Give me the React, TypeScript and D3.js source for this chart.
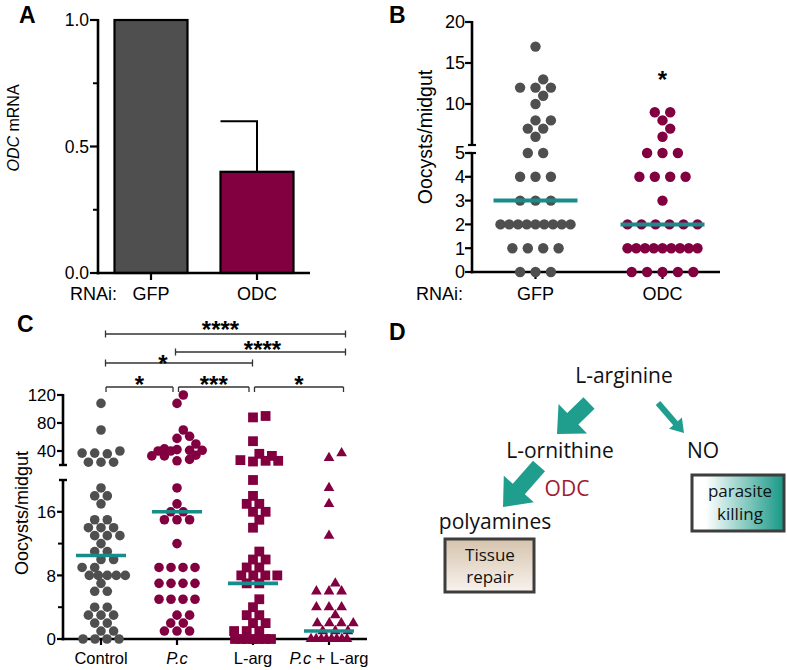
import React from "react";
import * as d3 from "d3";

const FONT = "'Liberation Sans', Arial, Helvetica, sans-serif";
const DFONT = "'Open Sans', 'Noto Sans', sans-serif";
const GRAY = "#4f4f4f";
const MAROON = "#820040";
const TEAL = "#188c8a";
const ARROW = "#1f9e8e";

// ---------- Panel A ----------
const aCategories = ["GFP", "ODC"];
const aMeans = [1.0, 0.4];
const aErrors = [0, 0.2];
const aColors = [GRAY, MAROON];
const aTicks = [0, 0.5, 1.0];
const aMinorTicks = [0.25, 0.75];

// ---------- Panel B ----------
const bCategories = ["GFP", "ODC"];
const bGFP = [17, 13, 12, 12, 12, 11, 10, 8, 8, 7, 7, 6, 5, 5, 4, 4, 4, 3, 3, 3, 2, 2, 2, 2, 2, 2, 2, 2, 2, 1, 1, 1, 1, 0, 0, 0];
const bODC = [9, 9, 8, 7, 6, 5, 5, 5, 4, 4, 4, 4, 3, 2, 2, 2, 2, 2, 2, 1, 1, 1, 1, 1, 1, 1, 1, 1, 0, 0, 0, 0, 0];
const bMedians = [3, 2];
const bLowerTicks = [0, 1, 2, 3, 4, 5];
const bUpperTicks = [10, 15, 20];

// ---------- Panel C ----------
const cCategories = ["Control", "P.c", "L-arg", "P.c + L-arg"];
const cControl = [108, 70, 40, 37, 37, 36, 24, 24, 24, 19, 18, 18, 17, 15, 15, 14, 14, 14, 13, 13, 13, 12, 11, 11, 10, 10, 9, 9, 8, 8, 8, 8, 8, 7, 6, 6, 4, 4, 3, 3, 3, 2, 2, 1, 1, 0, 0, 0, 0];
const cPc = [120, 108, 70, 61, 58, 50, 43, 42, 41, 41, 40, 40, 34, 33, 33, 28, 26, 19, 17, 16, 16, 15, 15, 15, 12, 9, 9, 9, 9, 7, 7, 7, 7, 5, 5, 5, 5, 3, 3, 2, 2, 1, 1, 1];
const cLarg = [90, 88, 54, 36, 33, 27, 26, 26, 25, 20, 18, 17, 17, 16, 16, 15, 14, 11, 10, 10, 9, 9, 8, 8, 8, 8, 7, 7, 5, 4, 3, 3, 2, 2, 1, 1, 1, 0, 0, 0, 0, 0, 0, 0];
const cPcLarg = [37, 30, 19, 17, 13, 7, 6, 6, 6, 4, 4, 4, 3, 2, 2, 2, 2, 1, 1, 1, 0, 0, 0, 0, 0, 0, 0, 0];
const cSeries = [cControl, cPc, cLarg, cPcLarg];
const cShapes = ["circle", "circle", "square", "triangle"];
const cColors = [GRAY, MAROON, MAROON, MAROON];
const cMedians = [10.5, 16, 7, 1];
const cLowerLabeled = [0, 8, 16];
const cLowerMinor = [4, 12];
const cUpperTicks = [40, 80, 120];
// significance comparisons: [from index, to index, label, level, label offset]
const cSig: [number, number, string, number, number][] = [
  [0, 1, "*", 0, 0],
  [1, 2, "***", 0, 0],
  [2, 3, "*", 0, 0],
  [0, 2, "*", 1, -16],
  [1, 3, "****", 2, 2],
  [0, 3, "****", 3, -5],
];

// ---------- Panel D (diagram) ----------
const dArrows = [
  { from: [589, 403], to: [557, 434], shaft: 16, head: 41, headLen: 22 },
  { from: [539, 466], to: [503, 507], shaft: 16, head: 40, headLen: 24 },
  { from: [658, 403], to: [684, 433], shaft: 6, head: 17, headLen: 13 },
];

type Pt = { x: number; y: number; v: number };

function swarm(vals: number[], yOf: (v: number) => number, cx: number, sp: number, maxW: number, d: number): Pt[] {
  const groups = d3.groups(vals, (v) => v).sort((a, b) => a[0] - b[0]);
  const placed: Pt[] = [];
  for (const [v, arr] of groups) {
    const n = arr.length;
    const ks = n >= 3 ? [0, 0.5, -0.5] : [0, 0.5, -0.5, 1, -1, 1.5, -1.5];
    const shifts = ks.map((k) => k * sp);
    const s = n > 1 ? Math.min(sp, maxW / (n - 1)) : sp;
    const py = yOf(v);
    const base = d3.range(n).map((i) => (i - (n - 1) / 2) * s);
    let best = 0;
    let bestScore = -Infinity;
    for (const sh of shifts) {
      let mind = Infinity;
      for (const bx of base)
        for (const p of placed) {
          const dd = Math.hypot(p.x - (cx + bx + sh), p.y - py);
          if (dd < mind) mind = dd;
        }
      if (mind >= d) {
        best = sh;
        bestScore = mind;
        break;
      }
      if (mind > bestScore) {
        bestScore = mind;
        best = sh;
      }
    }
    base.forEach((bx) => placed.push({ x: cx + bx + best, y: py, v }));
  }
  return placed;
}

function arrowPoints(a: { from: number[]; to: number[]; shaft: number; head: number; headLen: number }) {
  const [x0, y0] = a.from;
  const [x1, y1] = a.to;
  const dx = x1 - x0, dy = y1 - y0;
  const L = Math.hypot(dx, dy);
  const ux = dx / L, uy = dy / L;
  const px = -uy, py = ux;
  const bx = x1 - ux * a.headLen, by = y1 - uy * a.headLen;
  const s = a.shaft / 2, h = a.head / 2;
  const pts = [
    [x0 + px * s, y0 + py * s],
    [bx + px * s, by + py * s],
    [bx + px * h, by + py * h],
    [x1, y1],
    [bx - px * h, by - py * h],
    [bx - px * s, by - py * s],
    [x0 - px * s, y0 - py * s],
  ];
  return pts.map((p) => p.join(",")).join(" ");
}

const AX = 2.6;

function PanelA() {
  const y = d3.scaleLinear().domain([0, 1]).range([273, 20]);
  const x = d3.scalePoint<string>().domain(aCategories).range([98, 310]).padding(0.5);
  const bw = 73;
  const axX = 98;
  return (
    <g fontFamily={FONT}>
      <text x={19} y={23} fontSize={23} fontWeight="bold">A</text>
      {aCategories.map((c, i) => {
        const cx = x(c)!;
        return (
          <g key={c}>
            {aErrors[i] > 0 && (
              <g stroke="#000" strokeWidth={2}>
                <line x1={cx} x2={cx} y1={y(aMeans[i])} y2={y(aMeans[i] + aErrors[i])} />
                <line x1={cx - bw / 2} x2={cx + 1} y1={y(aMeans[i] + aErrors[i])} y2={y(aMeans[i] + aErrors[i])} />
              </g>
            )}
            <rect x={cx - bw / 2} y={y(aMeans[i])} width={bw} height={y(0) - y(aMeans[i])} fill={aColors[i]} stroke="#000" strokeWidth={2.2} />
            <line x1={cx} x2={cx} y1={y(0)} y2={y(0) + 7} stroke="#000" strokeWidth={2.2} />
            <text x={cx} y={300} fontSize={18} textAnchor="middle">{c}</text>
          </g>
        );
      })}
      <line x1={axX} x2={axX} y1={y(1) - 1} y2={y(0) + 1.3} stroke="#000" strokeWidth={AX} />
      <line x1={axX - 1.3} x2={310} y1={y(0)} y2={y(0)} stroke="#000" strokeWidth={AX} />
      {aTicks.map((t) => (
        <g key={t}>
          <line x1={axX - 8} x2={axX} y1={y(t)} y2={y(t)} stroke="#000" strokeWidth={2.2} />
          <text x={axX - 9} y={y(t)} dy="0.36em" fontSize={17.5} textAnchor="end">{d3.format(".1f")(t)}</text>
        </g>
      ))}
      {aMinorTicks.map((t) => (
        <line key={t} x1={axX - 5} x2={axX} y1={y(t)} y2={y(t)} stroke="#000" strokeWidth={2} />
      ))}
      <text x={70} y={300} fontSize={18}>RNAi:</text>
      <g transform="translate(19,128) rotate(-90)">
        <text x={0} y={0} fontSize="16px" textAnchor="middle" fontFamily={FONT}>
          <tspan fontStyle="italic" fontSize="16px">ODC</tspan>
          <tspan fontSize="16px">{" mRNA"}</tspan>
        </text>
      </g>
    </g>
  );
}

function PanelB() {
  const low = d3.scaleLinear().domain([0, 5]).range([272, 153]);
  const up = d3.scaleLinear().domain([5, 20]).range([145, 22]);
  const yOf = (v: number) => (v <= 5 ? low(v) : up(v));
  const x = d3.scalePoint<string>().domain(bCategories).range([472, 726]).padding(0.5);
  const axX = 472;
  const series = [bGFP, bODC];
  const colors = [GRAY, MAROON];
  return (
    <g fontFamily={FONT}>
      <text x={389} y={23} fontSize={23} fontWeight="bold">B</text>
      <line x1={axX} x2={axX} y1={up(20) - 1} y2={up(5)} stroke="#000" strokeWidth={AX} />
      <line x1={axX} x2={axX} y1={low(5)} y2={low(0) + 1.3} stroke="#000" strokeWidth={AX} />
      <line x1={axX - 4} x2={axX + 4} y1={up(5)} y2={up(5)} stroke="#000" strokeWidth={2.2} />
      <line x1={axX - 4} x2={axX + 4} y1={low(5)} y2={low(5)} stroke="#000" strokeWidth={2.2} />
      <line x1={axX - 1.3} x2={720} y1={low(0)} y2={low(0)} stroke="#000" strokeWidth={AX} />
      {bLowerTicks.map((t) => (
        <g key={"l" + t}>
          <line x1={axX - 7} x2={axX} y1={low(t)} y2={low(t)} stroke="#000" strokeWidth={2.2} />
          <text x={axX - 7} y={low(t)} dy="0.36em" fontSize={18} textAnchor="end">{t}</text>
        </g>
      ))}
      {bUpperTicks.map((t) => (
        <g key={"u" + t}>
          <line x1={axX - 7} x2={axX} y1={up(t)} y2={up(t)} stroke="#000" strokeWidth={2.2} />
          <text x={axX - 7} y={up(t)} dy="0.36em" fontSize={18} textAnchor="end">{t}</text>
        </g>
      ))}
      {bCategories.map((c, i) => {
        const cx = x(c)!;
        const pts = swarm(series[i], yOf, cx, 15.4, 70, 10);
        return (
          <g key={c}>
            <line x1={cx} x2={cx} y1={low(0)} y2={low(0) + 7} stroke="#000" strokeWidth={2.2} />
            {pts.map((p, j) => (
              <circle key={j} cx={p.x} cy={p.y} r={5.2} fill={colors[i]} />
            ))}
            <line x1={cx - 42} x2={cx + 42} y1={yOf(bMedians[i])} y2={yOf(bMedians[i])} stroke={TEAL} strokeWidth={4} />
            <text x={cx} y={300} fontSize={18} textAnchor="middle">{c}</text>
          </g>
        );
      })}
      <text x={x("ODC")!} y={75 + 0.56 * 24} fontSize={24} fontWeight="bold" textAnchor="middle">*</text>
      <text x={416} y={300} fontSize={18}>RNAi:</text>
      <text transform={`translate(432,137) rotate(-90)`} fontSize={19.5} textAnchor="middle">Oocysts/midgut</text>
    </g>
  );
}

function PanelC() {
  const low = d3.scaleLinear().domain([0, 20]).range([639, 480]);
  const up = d3.scaleLinear().domain([20, 120]).range([465, 395]);
  const yOf = (v: number) => (v <= 20 ? low(v) : up(v));
  const x = d3.scalePoint<string>().domain(cCategories).range([63, 367]).padding(0.5);
  const axX = 63;
  const sq = d3.symbol(d3.symbolSquare, 96)();
  const tri = d3.symbol(d3.symbolTriangle, 50)();
  const levelY = [387, 363, 352, 334];
  const starY = [379.5, 359, 344.5, 324.5];
  return (
    <g fontFamily={FONT}>
      <text x={17} y={332} fontSize={23} fontWeight="bold">C</text>
      <line x1={axX} x2={axX} y1={up(120) - 1} y2={up(20)} stroke="#000" strokeWidth={AX} />
      <line x1={axX} x2={axX} y1={low(20)} y2={low(0) + 1.3} stroke="#000" strokeWidth={AX} />
      <line x1={axX - 4} x2={axX + 4} y1={up(20)} y2={up(20)} stroke="#000" strokeWidth={2.4} />
      <line x1={axX - 4} x2={axX + 4} y1={low(20)} y2={low(20)} stroke="#000" strokeWidth={2.4} />
      <line x1={axX - 1.3} x2={367} y1={low(0)} y2={low(0)} stroke="#000" strokeWidth={AX} />
      {cLowerLabeled.map((t) => (
        <g key={"l" + t}>
          <line x1={axX - 6} x2={axX} y1={low(t)} y2={low(t)} stroke="#000" strokeWidth={2.2} />
          <text x={axX - 7} y={low(t)} dy="0.36em" fontSize={17} textAnchor="end">{t}</text>
        </g>
      ))}
      {cLowerMinor.map((t) => (
        <line key={"m" + t} x1={axX - 5} x2={axX} y1={low(t)} y2={low(t)} stroke="#000" strokeWidth={2} />
      ))}
      {cUpperTicks.map((t) => (
        <g key={"u" + t}>
          <line x1={axX - 6} x2={axX} y1={up(t)} y2={up(t)} stroke="#000" strokeWidth={2.2} />
          <text x={axX - 7} y={up(t)} dy="0.36em" fontSize={17} textAnchor="end">{t}</text>
        </g>
      ))}
      {cCategories.map((c, i) => {
        const cx = x(c)!;
        const pts = swarm(cSeries[i], yOf, cx, 12.6, 36, 8.5);
        return (
          <g key={c}>
            <line x1={cx} x2={cx} y1={low(0)} y2={low(0) + 6} stroke="#000" strokeWidth={2.2} />
            {pts.map((p, j) =>
              cShapes[i] === "circle" ? (
                <circle key={j} cx={p.x} cy={p.y} r={4.8} fill={cColors[i]} />
              ) : (
                <path key={j} d={cShapes[i] === "square" ? sq! : tri!} transform={`translate(${p.x},${p.y})`} fill={cColors[i]} />
              )
            )}
            <line x1={cx - 25} x2={cx + 25} y1={yOf(cMedians[i])} y2={yOf(cMedians[i])} stroke={TEAL} strokeWidth={3.6} />
          </g>
        );
      })}
      <text x={x("Control")!} y={664} fontSize={16.5} textAnchor="middle">Control</text>
      <text x={x("P.c")!} y={664} fontSize={16.5} textAnchor="middle" fontStyle="italic">P.c</text>
      <text x={x("L-arg")!} y={664} fontSize={16.5} textAnchor="middle">L-arg</text>
      <text x={x("P.c + L-arg")!} y={664} fontSize={16.5} textAnchor="middle">
        <tspan fontStyle="italic">P.c</tspan>
        <tspan>{" + L-arg"}</tspan>
      </text>
      {cSig.map(([a, b, lab, lev, off], k) => {
        const xa = lev === 0 ? x(cCategories[a])! + (a === 0 ? 5 : 1.5) : x(cCategories[a])! + (a === 0 ? 4.5 : -1.5);
        const xb = lev === 0 ? x(cCategories[b])! + (b === 3 ? 14.5 : -4) : x(cCategories[b])! + (b === 3 ? 16.5 : -0.5);
        const yy = levelY[lev];
        return (
          <g key={k}>
            <line x1={xa} x2={xb} y1={yy} y2={yy} stroke="#333" strokeWidth={1.3} />
            {lev === 0 ? (
              <>
                <line x1={xa} x2={xa} y1={yy} y2={yy + 5} stroke="#333" strokeWidth={1.3} />
                <line x1={xb} x2={xb} y1={yy} y2={yy + 5} stroke="#333" strokeWidth={1.3} />
              </>
            ) : (
              <>
                <line x1={xa} x2={xa} y1={yy - 3.5} y2={yy + 3.5} stroke="#333" strokeWidth={1.3} />
                <line x1={xb} x2={xb} y1={yy - 3.5} y2={yy + 3.5} stroke="#333" strokeWidth={1.3} />
              </>
            )}
            <text x={(xa + xb) / 2 + off} y={starY[lev] + 0.56 * 24} fontSize={24} fontWeight="bold" textAnchor="middle">{lab}</text>
          </g>
        );
      })}
      <text transform={`translate(28,513) rotate(-90)`} fontSize={18} textAnchor="middle">Oocysts/midgut</text>
    </g>
  );
}

function PanelD() {
  return (
    <g>
      <defs>
        <linearGradient id="tissueGrad" x1="0" y1="0" x2="0" y2="1">
          <stop offset="0" stopColor="#d6c3ad" />
          <stop offset="1" stopColor="#f8f3ee" />
        </linearGradient>
        <linearGradient id="killGrad" x1="0" y1="0" x2="1" y2="0">
          <stop offset="0.15" stopColor="#ffffff" />
          <stop offset="1" stopColor="#169886" />
        </linearGradient>
      </defs>
      <text x={389} y={340} fontSize={23} fontWeight="bold" fontFamily={FONT}>D</text>
      {dArrows.map((a, i) => (
        <polygon key={i} points={arrowPoints(a)} fill={ARROW} />
      ))}
      <g fontFamily={DFONT} fill="#111">
        <text x={624} y={383} fontSize={21} textAnchor="middle">L-arginine</text>
        <text x={560} y={458} fontSize={21} textAnchor="middle">L-ornithine</text>
        <text x={703} y={458} fontSize={21} textAnchor="middle">NO</text>
        <text x={567} y={496} fontSize={21} textAnchor="middle" fill="#9e1b32">ODC</text>
        <text x={495} y={529} fontSize={21} textAnchor="middle">polyamines</text>
        <rect x={445} y={539} width={89} height={53} fill="url(#tissueGrad)" stroke="#3d3d3d" strokeWidth={3} />
        <text x={490} y={561} fontSize={17} textAnchor="middle">Tissue</text>
        <text x={490} y={583} fontSize={17} textAnchor="middle">repair</text>
        <rect x={692} y={475} width={92} height={56} fill="url(#killGrad)" stroke="#3d3d3d" strokeWidth={3} />
        <text x={740} y={497} fontSize={17} textAnchor="middle">parasite</text>
        <text x={740} y={520} fontSize={17} textAnchor="middle">killing</text>
      </g>
    </g>
  );
}

export default function App() {
  return (
    <svg width={787} height={670} style={{ position: "absolute", left: 0, top: 0, background: "#fff" }}>
      <rect width={787} height={670} fill="#fff" />
      <PanelA />
      <PanelB />
      <PanelC />
      <PanelD />
    </svg>
  );
}
